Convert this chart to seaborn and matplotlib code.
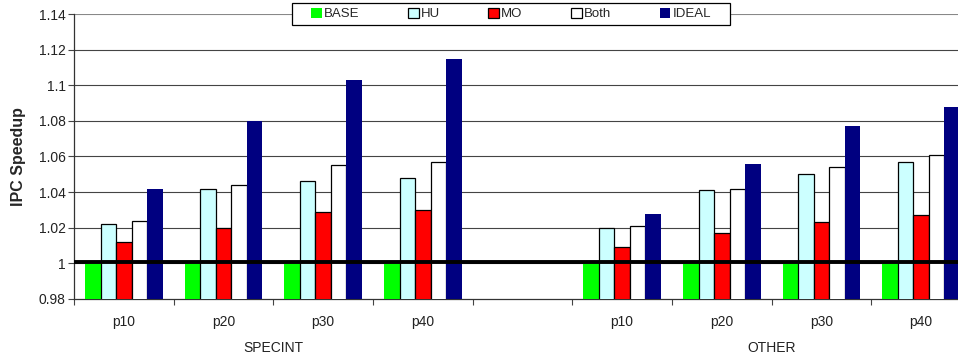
import matplotlib
matplotlib.use("Agg")
import matplotlib.pyplot as plt
import matplotlib.ticker as mticker
from matplotlib.patches import Patch, Rectangle
import seaborn as sns
import pandas as pd
import numpy as np

sns.set_theme(style="white")
plt.rcParams['font.family'] = ['Liberation Sans', 'DejaVu Sans']

groups = ["SPECINT", "OTHER"]
points = ["p10", "p20", "p30", "p40"]
series = ["BASE", "HU", "MO", "Both", "IDEAL"]
colors = ["#00FF00", "#CCFFFF", "#FF0000", "#FFFFFF", "#000080"]
edged = [False, True, True, True, False]

base_vals  = [1.0, 1.0, 1.0, 1.0, 1.0, 1.0, 1.0, 1.0]
hu_vals    = [1.022, 1.042, 1.046, 1.048, 1.020, 1.041, 1.050, 1.057]
mo_vals    = [1.012, 1.020, 1.029, 1.030, 1.009, 1.017, 1.023, 1.027]
both_vals  = [1.024, 1.044, 1.055, 1.057, 1.021, 1.042, 1.054, 1.061]
ideal_vals = [1.042, 1.080, 1.103, 1.115, 1.028, 1.056, 1.077, 1.088]

yticks = [0.98, 1.0, 1.02, 1.04, 1.06, 1.08, 1.1, 1.12, 1.14]

cats = [f"{g} {p}" for g in groups for p in points]
order = cats[:4] + ["gap"] + cats[4:]
tick_labels = points + [""] + points

rows = []
for s, vals in zip(series, [base_vals, hu_vals, mo_vals, both_vals, ideal_vals]):
    for c, v in zip(cats, vals):
        rows.append({"cat": c, "series": s, "value": v})
df = pd.DataFrame(rows)

fig = plt.figure(figsize=(9.58, 3.57), dpi=100)
ax = fig.add_axes([74/958, 1-299/357, 897/958, 285/357])

sns.barplot(data=df, x="cat", y="value", hue="series", order=order,
            hue_order=series, palette=colors, width=0.78, ax=ax,
            legend=False, errorbar=None, saturation=1, zorder=3)

for cont, e, col in zip(ax.containers, edged, colors):
    for bar in cont:
        if e:
            bar.set_edgecolor("black")
            bar.set_linewidth(0.9)
        else:
            bar.set_edgecolor(col)
            bar.set_linewidth(0)

ax.set_ylim(0.98, 1.14)
ax.set_xlim(-0.5, 8.5)
ax.set_yticks(yticks)
ax.yaxis.set_major_formatter(mticker.FuncFormatter(lambda v, p: f"{round(v, 2):g}"))
for y in yticks[1:]:
    ax.axhline(y, color="#444444" if y < 1.13 else "#888888", lw=0.8, zorder=1)
ax.axhline(1.001, color="black", lw=2.8, zorder=5)

ax.set_xticks(range(len(order)))
ax.set_xticklabels(tick_labels)
ax.set_xticks(np.arange(-0.5, 8.5, 1.0), minor=True)
ax.tick_params(axis="x", which="major", length=0, pad=11.5, labelsize=10, colors="#222222")
ax.tick_params(axis="x", which="minor", length=4, width=0.8, color="#444444", direction="out", bottom=True)
ax.tick_params(axis="y", which="major", length=4, width=0.8, color="#444444", direction="out", left=True,
               labelsize=10, colors="#222222", pad=2)

ax.set_xlabel("")
ax.set_ylabel("IPC Speedup", fontsize=11.5, fontweight="bold", labelpad=9)

for sp in ["top", "right"]:
    ax.spines[sp].set_visible(False)
for sp in ["left", "bottom"]:
    ax.spines[sp].set_color("#333333")
    ax.spines[sp].set_linewidth(0.9)

trans = matplotlib.transforms.blended_transform_factory(ax.transData, fig.transFigure)
ax.text(1.5, 1-348/357, groups[0], transform=trans, ha="center", va="center", fontsize=10, color="#222222")
ax.text(6.5, 1-348/357, groups[1], transform=trans, ha="center", va="center", fontsize=10, color="#222222")

# legend box
fig.patches.append(Rectangle((292/958, 1-25/357), 438/958, 22/357, transform=fig.transFigure,
                             facecolor="white", edgecolor="black", linewidth=0.9, zorder=4))
handles = []
for s, c, e in zip(series, colors, edged):
    handles.append(Patch(facecolor=c, edgecolor="black" if e else c, linewidth=0.9 if e else 0, label=s))
leg = fig.legend(handles=handles, ncol=5, loc="center", bbox_to_anchor=(511/958, 1-14/357),
                 frameon=False, fontsize=9.5, handlelength=0.8, handleheight=0.8,
                 handletextpad=0.15, columnspacing=3.7, borderpad=0, borderaxespad=0)
leg.set_zorder(6)

fig.savefig("out.png", dpi=100)
